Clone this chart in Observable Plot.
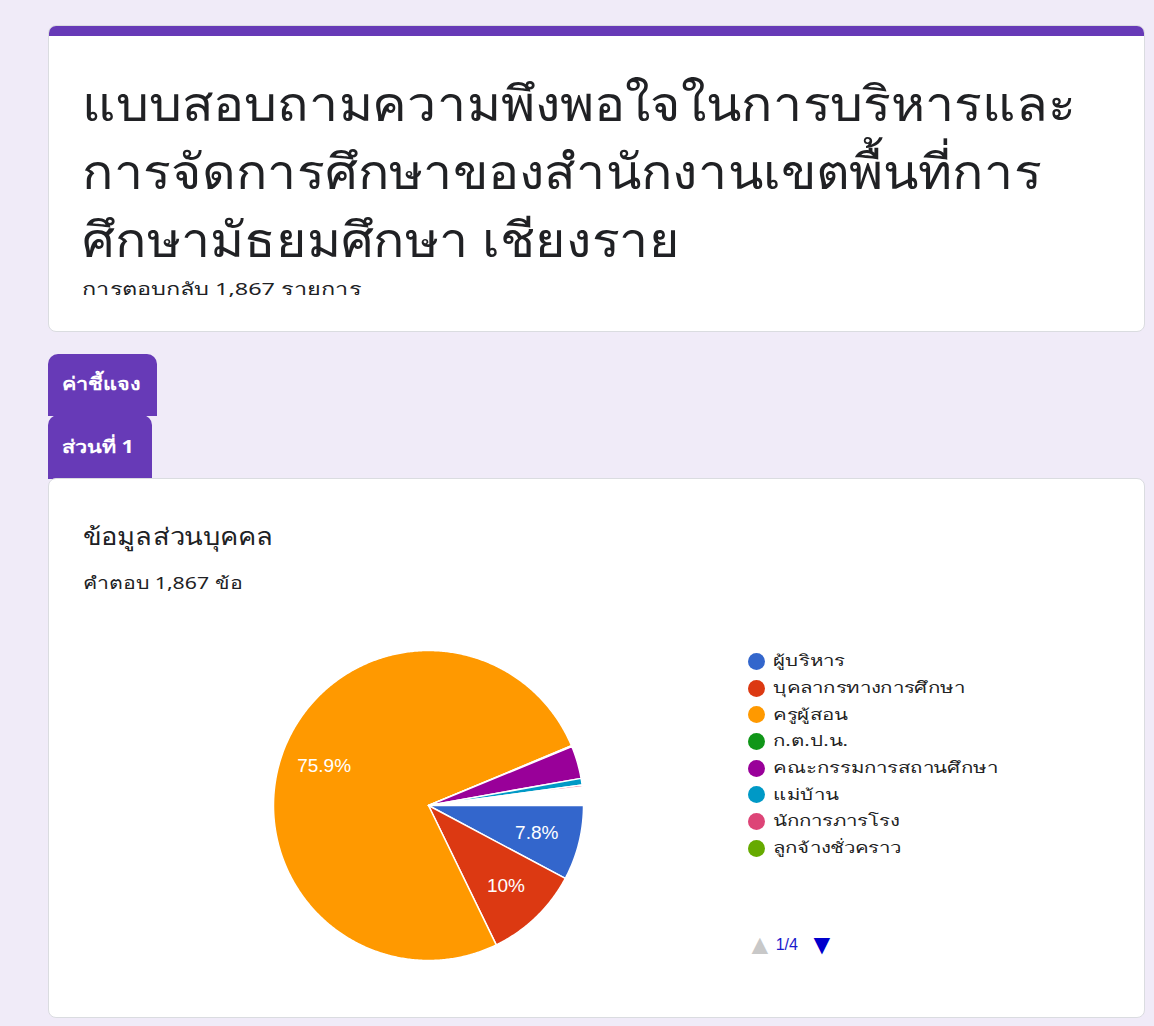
<!DOCTYPE html>
<html><head><meta charset="utf-8">
<script src="https://cdn.jsdelivr.net/npm/d3@7"></script>
<script src="https://cdn.jsdelivr.net/npm/@observablehq/plot@0.6"></script>
<style>
body{margin:0;background:#f0ebf8;width:1154px;height:1026px;overflow:hidden;font-family:Tahoma,"Noto Sans","DejaVu Sans",sans-serif;color:#202124;position:relative;}
.card{position:absolute;background:#fff;border:1px solid #dadce0;border-radius:8px;box-sizing:border-box;}
#head{left:48px;top:25px;width:1097px;height:307px;overflow:hidden;}
#head .bar{position:absolute;left:0;top:0;right:0;height:10px;background:#673ab7;}
.sx{display:inline-block;transform-origin:0 50%;}
.tl{position:absolute;left:33px;font-size:49px;line-height:60px;white-space:nowrap;color:#202124;}
.tl .sx{transform:scaleX(1.06);}
#sub{position:absolute;left:33px;top:249px;font-size:17px;white-space:nowrap;}
#sub .sx{transform:scaleX(1.38);}
.tab{position:absolute;background:#673ab7;color:#fff;font-weight:bold;font-size:18px;border-radius:10px 10px 0 0;box-sizing:border-box;padding-left:14px;white-space:nowrap;}
.tab .sx{transform:scaleX(1.2);}
#card2{left:48px;top:478px;width:1097px;height:540px;}
#qt{position:absolute;left:34px;top:38px;font-size:24px;white-space:nowrap;}
#qt .sx{transform:scaleX(1.14);}
#qs{position:absolute;left:34px;top:90px;font-size:17px;white-space:nowrap;}
#qs .sx{transform:scaleX(1.25);}
#pie{position:absolute;left:263px;top:640px;}
#legend{position:absolute;left:748px;top:648px;font-size:15px;color:#222;}
.li{height:26.7px;display:flex;align-items:center;white-space:nowrap;}
.li .sx{transform:scaleX(1.36);}
.sw{width:17px;height:17px;border-radius:50%;margin-right:8px;flex:none;}
#pager{position:absolute;left:746px;top:928px;font-family:"Liberation Sans",Arial,sans-serif;font-size:16px;white-space:nowrap;display:flex;align-items:center;height:34px;}
</style></head><body>
<div class="card" id="head"><div class="bar"></div>
<div class="tl" style="top:46px"><span class="sx">แบบสอบถามความพึงพอใจในการบริหารและ</span></div>
<div class="tl" style="top:114px"><span class="sx">การจัดการศึกษาของสำนักงานเขตพื้นที่การ</span></div>
<div class="tl" style="top:182px"><span class="sx">ศึกษามัธยมศึกษา เชียงราย</span></div>
<div id="sub"><span class="sx">การตอบกลับ 1,867 รายการ</span></div>
</div>
<div class="tab" style="left:48px;top:354px;width:109px;height:62px;line-height:58px;"><span class="sx">ค่าชี้แจง</span></div>
<div class="tab" style="left:48px;top:415px;width:104px;height:64px;line-height:62px;"><span class="sx">ส่วนที่ 1</span></div>
<div class="card" id="card2">
<div id="qt"><span class="sx">ข้อมูลส่วนบุคคล</span></div>
<div id="qs"><span class="sx">คำตอบ 1,867 ข้อ</span></div>
</div>
<div id="pie"></div>
<div id="legend"></div>
<div id="pager"><span style="color:#c8c8c8;font-size:28px">▲</span><span style="color:#1a1acc;margin-left:2px">1/4</span><span style="color:#0000cc;font-size:28px;margin-left:10px">▼</span></div>
<script>
const categories = ["ผู้บริหาร","บุคลากรทางการศึกษา","ครูผู้สอน","ก.ต.ป.น.","คณะกรรมการสถานศึกษา","แม่บ้าน","นักการภารโรง","ลูกจ้างชั่วคราว"];
const percents = [7.8, 10, 75.9, 0.1, 3.4, 0.7, 0.2, 0.1];
const colors = ["#3366cc","#dc3912","#ff9900","#109618","#990099","#0099c6","#dd4477","#66aa00"];
const labelTexts = ["7.8%","10%","75.9%","","","","",""];

// percentages are of all 1,867 responses; remaining categories sit on later legend pages
const total = 100;
let acc = 0;
const slices = [], labels = [];
categories.forEach((name, i) => {
  const a0 = acc / total * 2 * Math.PI;
  acc += percents[i];
  const a1 = acc / total * 2 * Math.PI;
  const n = Math.max(2, Math.ceil((a1 - a0) / (Math.PI / 360)));
  const ring = [[0, 0]];
  for (let k = 0; k <= n; k++) {
    const a = a0 + (a1 - a0) * k / n;
    ring.push([Math.cos(a), -Math.sin(a)]);
  }
  ring.push([0, 0]);
  slices.push({type: "Feature", properties: {name, color: colors[i]}, geometry: {type: "Polygon", coordinates: [ring]}});
  if (labelTexts[i]) {
    const m = (a0 + a1) / 2;
    labels.push({x: 0.72 * Math.cos(m), y: -0.72 * Math.sin(m), text: labelTexts[i]});
  }
});

const pie = Plot.plot({
  width: 330, height: 330, margin: 0,
  projection: {type: "reflect-y", domain: {type: "MultiPoint", coordinates: [[-1, -1], [1, 1]]}, inset: 10},
  marks: [
    Plot.geo(slices, {fill: d => d.properties.color, stroke: "white", strokeWidth: 1.5}),
    Plot.text(labels, {x: "x", y: "y", text: "text", fill: "white", fontSize: 19, fontFamily: "Liberation Sans, Arial, sans-serif"})
  ]
});
document.getElementById("pie").appendChild(pie);

const lg = document.getElementById("legend");
categories.forEach((c, i) => {
  const d = document.createElement("div");
  d.className = "li";
  d.innerHTML = `<span class="sw" style="background:${colors[i]}"></span><span class="sx">${c}</span>`;
  lg.appendChild(d);
});
</script>
</body></html>
